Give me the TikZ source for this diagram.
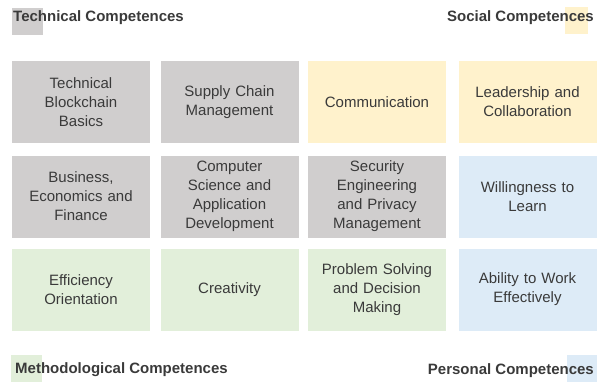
\documentclass[tikz,border=0pt]{standalone}
\usepackage{fontspec}
\setmainfont{Liberation Sans}
\usetikzlibrary{positioning}
\definecolor{TechGray}{RGB}{208,206,206}
\definecolor{SocYellow}{RGB}{255,242,204}
\definecolor{MethGreen}{RGB}{226,239,218}
\definecolor{PersBlue}{RGB}{221,235,247}
\definecolor{InkGray}{RGB}{58,58,58}

\begin{document}
\begin{tikzpicture}[x=1pt,y=-1pt,
        cbox/.style={rectangle,minimum width=138pt,minimum height=82pt,
                     inner sep=0pt,text width=124pt,align=center,
                     font=\fontsize{15}{19}\selectfont,text=InkGray},
        tech/.style={cbox,fill=TechGray},
        soc/.style={cbox,fill=SocYellow},
        meth/.style={cbox,fill=MethGreen},
        pers/.style={cbox,fill=PersBlue},
        key/.style={rectangle,inner sep=0pt,minimum width=31pt,minimum height=27pt},
        hd/.style={inner sep=0pt,font=\fontsize{15}{18}\selectfont\bfseries,text=InkGray}
      ]
        \useasboundingbox (0,0) rectangle (597,381);

        % category keys and headings
        \node[key,fill=TechGray] (techkey) at (27,21.5) {};
        \node[hd,anchor=west] (techhd) at (13,18) {Technical Competences};
        \node[key,fill=SocYellow,minimum width=23pt] (sockey) at (576,20) {};
        \node[hd,anchor=east] (sochd) at (594,18) {Social Competences};
        \node[key,fill=MethGreen] (methkey) at (26.5,368) {};
        \node[hd,anchor=west] (methhd) at (15,370) {Methodological Competences};
        \node[key,fill=PersBlue] (perskey) at (582,368.5) {};
        \node[hd,anchor=east] (pershd) at (594,371) {Personal Competences};

        % first row
        \node[tech] (blockchain) at (81,102) {Technical\\Blockchain\\Basics};
        \node[tech] (supply) at (229.5,102) {Supply Chain\\Management};
        \node[soc] (comm) at (377,102) {Communication};
        \node[soc] (lead) at (527.5,102) {Leadership and\\Collaboration};

        % second row
        \node[tech] (business) at (81,196.5) {Business,\\Economics and\\Finance};
        \node[tech] (compsci) at (229.5,196.5) {Computer\\Science and\\Application\\Development};
        \node[tech] (security) at (377,196.5) {Security\\Engineering\\and Privacy\\Management};
        \node[pers] (learn) at (527.5,196.5) {Willingness to\\Learn};

        % third row
        \node[meth] (effic) at (81,289.5) {Efficiency\\Orientation};
        \node[meth] (creat) at (229.5,289.5) {Creativity};
        \node[meth] (problem) at (377,289.5) {Problem Solving\\and Decision\\Making};
        \node[pers] (work) at (527.5,289.5) {Ability to Work\\Effectively};
      \end{tikzpicture}
\end{document}
